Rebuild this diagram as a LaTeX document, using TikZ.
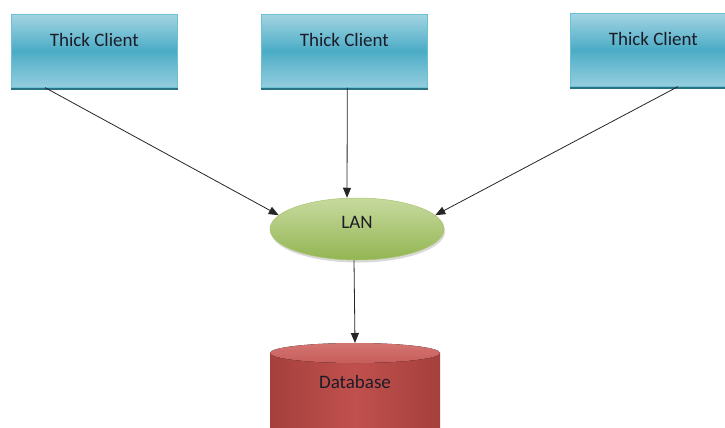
\documentclass[tikz,border=0pt]{standalone}
\usepackage{fontspec}
\setmainfont{Carlito}
\usetikzlibrary{arrows.meta,shapes.geometric,shadows}
\definecolor{boxtop}{HTML}{A3D4E2}
\definecolor{boxmid}{HTML}{4BACC6}
\definecolor{boxbot}{HTML}{95CEDE}
\definecolor{boxborder}{HTML}{6CC0D4}
\definecolor{boxshadow}{HTML}{2A7385}
\definecolor{lantop}{HTML}{C7DA9F}
\definecolor{lanbot}{HTML}{93B552}
\definecolor{lanborder}{HTML}{A9C56E}
\definecolor{dbdark}{HTML}{A5403D}
\definecolor{dbmid}{HTML}{C0504D}
\definecolor{dbtopl}{HTML}{D47471}
\definecolor{dbtopd}{HTML}{C65E5B}
\definecolor{txt}{HTML}{1C1C28}
\tikzset{
  client/.style={rectangle, anchor=north west, minimum width=166pt,
    inner xsep=0pt, inner ysep=0pt, text height=32pt, text depth=41pt,
    draw=boxborder, line width=0.6pt, top color=boxtop, bottom color=boxbot,
    middle color=boxmid, text=txt, font=\fontsize{19}{22}\selectfont},
  lannode/.style={ellipse, minimum width=174pt, minimum height=62pt,
    inner sep=0pt, text height=12pt, text depth=14pt,
    draw=lanborder, line width=0.5pt, top color=lantop, bottom color=lanbot,
    text=txt, font=\fontsize{19}{22}\selectfont,
    drop shadow={shadow xshift=1pt, shadow yshift=-2.5pt, opacity=0.25, fill=black!60}},
  dbtext/.style={text=txt, font=\fontsize{19}{22}\selectfont},
  conn/.style={draw=black!85, line width=0.8pt, -{Triangle[length=10pt,width=8pt]}},
  shadowline/.style={draw=boxshadow, line width=2pt}
}
\begin{document}
\begin{tikzpicture}[x=1pt,y=-1pt]
\useasboundingbox (0,0) rectangle (725,428);
\fill[white] (0,0) rectangle (725,428);
\clip (0,0) rectangle (725,428);
% clients
\node[client] (c1) at (11,14) {Thick Client};
\node[client] (c2) at (261,14) {Thick Client};
\node[client] (c3) at (570,13) {Thick Client};
\draw[shadowline] ([yshift=-1pt]c1.south west) -- ([yshift=-1pt]c1.south east);
\draw[shadowline] ([yshift=-1pt]c2.south west) -- ([yshift=-1pt]c2.south east);
\draw[shadowline] ([yshift=-1pt]c3.south west) -- ([yshift=-1pt]c3.south east);
% LAN
\node[lannode] (lan) at (357,229) {LAN};
% database cylinder
\fill[left color=dbdark, right color=dbdark, middle color=dbmid] (270,353) rectangle (440,440);
\fill[top color=dbtopl, bottom color=dbtopd] (355,353) ellipse [x radius=85, y radius=10];
\coordinate (dbtop) at (355,343);
\node[dbtext] (db) at (355,382) {Database};
% connectors
\draw[conn] ([xshift=34pt]c1.south west) -- (lan.170);
\draw[conn] ([xshift=3pt]c2.south) -- ([xshift=-10pt]lan.north);
\draw[conn] ([xshift=108pt]c3.south west) -- (lan.10);
\draw[conn] ([xshift=-3pt]lan.south) -- (dbtop);
\end{tikzpicture}
\end{document}
